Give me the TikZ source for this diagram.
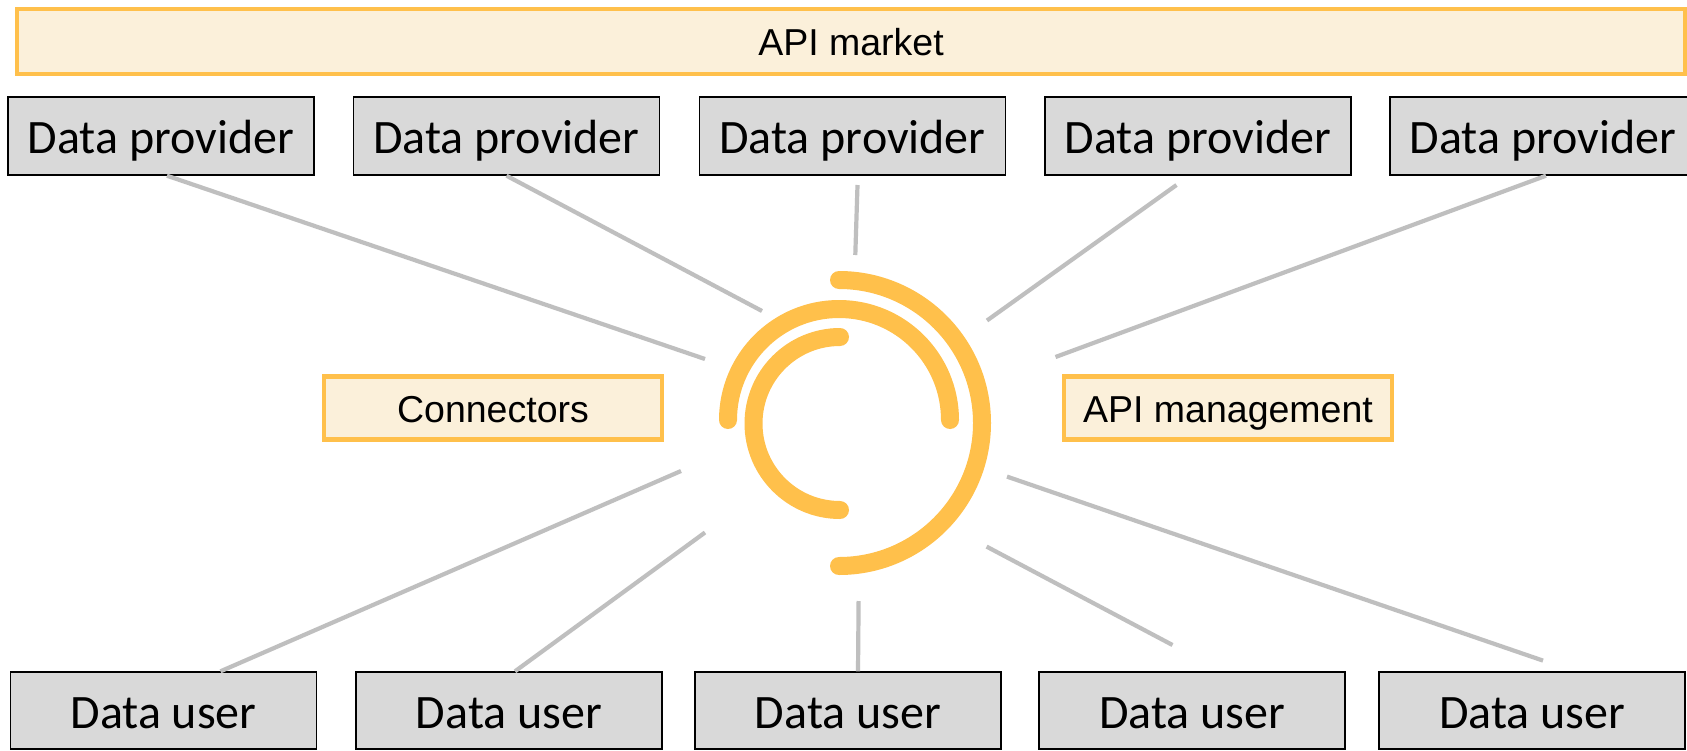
\documentclass[tikz,border=0pt]{standalone}
\usepackage{fontspec}
\setmainfont{Liberation Sans}
\newfontfamily\carlitofont{Carlito}
\definecolor{ringorange}{HTML}{FFC04B}
\definecolor{creamfill}{HTML}{FBF0DA}
\definecolor{boxgray}{HTML}{D9D9D9}
\definecolor{linkgray}{HTML}{BFBFBF}
\tikzset{
  market/.style={draw=ringorange,fill=creamfill,line width=4.6pt,inner sep=0pt,text height=28pt,text depth=0pt,font=\fontsize{37.5}{42}\selectfont,text=black},
  party/.style={draw=black,fill=boxgray,line width=1.4pt,inner sep=0pt,text height=35pt,text depth=0pt,font=\carlitofont\fontsize{48}{52}\selectfont,text=black},
  link/.style={draw=linkgray,line width=4.2pt},
  ring/.style={draw=ringorange,line width=18pt,line cap=round}
}
\begin{document}
\begin{tikzpicture}[x=1pt,y=-1pt]
\useasboundingbox (0,0) rectangle (1687,750);
\fill[white] (0,0) rectangle (1687,750);
% hub rings
\draw[ring] (839,280) arc[start angle=-90,end angle=90,radius=143];
\draw[ring] (728,420) arc[start angle=180,end angle=360,radius=111];
\draw[ring] (840,337) arc[start angle=-90,end angle=-270,radius=86.5];
% labelled bars
\node[market,minimum width=1668pt,minimum height=65pt] (mkt) at (851,41.5) {API market};
\node[market,minimum width=338pt,minimum height=63pt] (conn) at (493,408) {Connectors};
\node[market,minimum width=328pt,minimum height=63pt] (mgmt) at (1228,408) {API management};
% data providers
\node[party,minimum width=306pt,minimum height=78pt] (p1) at (161,136) {Data provider};
\node[party,minimum width=306pt,minimum height=78pt] (p2) at (506.5,136) {Data provider};
\node[party,minimum width=306pt,minimum height=78pt] (p3) at (852.5,136) {Data provider};
\node[party,minimum width=306pt,minimum height=78pt] (p4) at (1198,136) {Data provider};
\node[party,minimum width=306pt,minimum height=78pt] (p5) at (1543,136) {Data provider};
% data users
\node[party,minimum width=306pt,minimum height=77pt] (u1) at (163.5,710.5) {Data user};
\node[party,minimum width=306pt,minimum height=77pt] (u2) at (509,710.5) {Data user};
\node[party,minimum width=306pt,minimum height=77pt] (u3) at (848,710.5) {Data user};
\node[party,minimum width=306pt,minimum height=77pt] (u4) at (1192,710.5) {Data user};
\node[party,minimum width=306pt,minimum height=77pt] (u5) at (1532,710.5) {Data user};
% free ends
\coordinate (h1) at (705,359);
\coordinate (h2) at (762,311);
\coordinate (h3) at (855.3,255);
\coordinate (h4) at (987,320.5);
\coordinate (h5) at (1055.5,357);
\coordinate (h6) at (681,471);
\coordinate (h7) at (705,532.5);
\coordinate (h8) at (858.6,601);
\coordinate (h9) at (986.6,546.6);
\coordinate (h10) at (1007,476.6);
\coordinate (e3) at (857.5,185);
\coordinate (e4) at (1176.5,185);
\coordinate (e9) at (1172.5,645);
\coordinate (e10) at (1543,660.6);
% connectors
\draw[link] ([xshift=6pt]p1.south) -- (h1);
\draw[link] (p2.south) -- (h2);
\draw[link] (e3) -- (h3);
\draw[link] (e4) -- (h4);
\draw[link] ([xshift=3pt]p5.south) -- (h5);
\draw[link] ([xshift=57pt]u1.north) -- (h6);
\draw[link] ([xshift=6pt]u2.north) -- (h7);
\draw[link] ([xshift=10pt]u3.north) -- (h8);
\draw[link] (e9) -- (h9);
\draw[link] (e10) -- (h10);
\end{tikzpicture}
\end{document}
